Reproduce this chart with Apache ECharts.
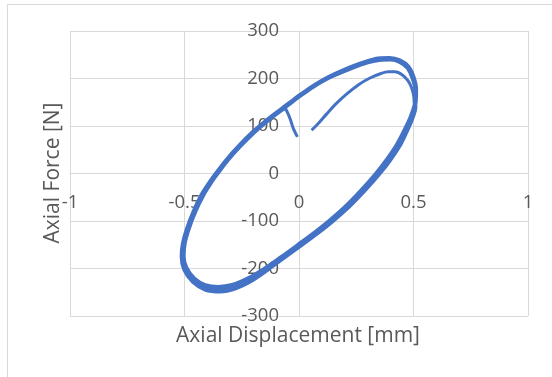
<!DOCTYPE html>
<html>
<head>
<meta charset="utf-8">
<script src="https://cdn.jsdelivr.net/npm/echarts@6/dist/echarts.min.js"></script>
<style>
html,body{margin:0;padding:0;background:#fff;}
#c{width:552px;height:377px;}
</style>
</head>
<body>
<div id="c"></div>
<script>
// Tick values
const xTicks = [-1, -0.5, 0, 0.5, 1];
const yTicks = [-300, -200, -100, 0, 100, 200, 300];

// Initial loading curve
const initX = [0.055, 0.08, 0.12, 0.16, 0.21, 0.26, 0.31, 0.355, 0.39, 0.42, 0.45, 0.475, 0.492, 0.502, 0.504];
const initY = [91, 103, 125, 146, 168, 187, 201, 210, 214, 214, 208, 196, 180, 160, 140];

// Cycle 1
const c1X = [0.504, 0.49, 0.465, 0.43, 0.385, 0.34, 0.28, 0.21, 0.14, 0.07, 0, -0.08, -0.15, -0.22, -0.29, -0.35, -0.41, -0.46, -0.495, -0.507, -0.502, -0.485, -0.455, -0.42, -0.385, -0.355, -0.31, -0.26, -0.2, -0.14, -0.08, -0.03, 0, 0.05, 0.1, 0.16, 0.23, 0.3, 0.35, 0.4, 0.44, 0.475, 0.497, 0.508, 0.506];
const c1Y = [140, 118, 92, 60, 28, 0, -33, -68, -98, -125, -150, -178, -202, -223, -238, -243, -239, -224, -200, -175, -148, -118, -80, -45, -18, 2, 30, 57, 86, 111, 133, 151, 162, 179, 194, 208, 222, 234, 239, 240, 235, 222, 200, 175, 150];

// Cycle 2
const c2X = [0.508, 0.496, 0.473, 0.441, 0.397, 0.352, 0.292, 0.222, 0.152, 0.082, 0.012, -0.068, -0.139, -0.21, -0.28, -0.343, -0.41, -0.463, -0.5, -0.512, -0.507, -0.49, -0.46, -0.425, -0.389, -0.359, -0.314, -0.264, -0.204, -0.144, -0.084, -0.034, -0.004, 0.046, 0.096, 0.156, 0.226, 0.296, 0.346, 0.396, 0.44, 0.477, 0.5, 0.511, 0.509];
const c2Y = [140, 118, 92, 60, 28, 0, -33, -68, -98, -125, -150, -178, -203, -226, -242, -248, -244, -228, -203, -175, -148, -118, -80, -45, -18, 2, 30, 57, 86, 111, 133, 151, 162, 179, 194, 209, 224, 236, 242, 243, 238, 225, 203, 177, 150];

// Cycle 3 (final, partial)
const c3X = [0.503, 0.487, 0.462, 0.427, 0.382, 0.337, 0.277, 0.207, 0.137, 0.067, -0.003, -0.083, -0.152, -0.222, -0.292, -0.352, -0.41, -0.458, -0.492, -0.504, -0.5, -0.483, -0.453, -0.418, -0.383, -0.353, -0.308, -0.258, -0.198, -0.138, -0.078, -0.06];
const c3Y = [140, 118, 92, 60, 28, 0, -33, -68, -98, -125, -150, -178, -201, -221, -235, -239, -235, -221, -199, -175, -148, -118, -80, -45, -18, 2, 30, 57, 86, 111, 133, 138];

// Unloading tail
const tailX = [-0.06, -0.05, -0.038, -0.025, -0.007];
const tailY = [138, 128, 114, 95, 77];

const loopX = [].concat(c1X, c2X, c3X);
const loopY = [].concat(c1Y, c2Y, c3Y);
const pairs = (xs, ys) => xs.map((x, i) => [x, ys[i]]);

const font = "'Open Sans', 'Liberation Sans', sans-serif";
const txt = '#595959';
const gridCol = '#d9d9d9';
const blue = '#4472C4';

const chart = echarts.init(document.getElementById('c'), null, {renderer: 'canvas'});
chart.setOption({
  animation: false,
  backgroundColor: '#fff',
  grid: {left: 70, right: 24, top: 31, bottom: 61, containLabel: false},
  xAxis: {
    type: 'value', min: xTicks[0], max: xTicks[xTicks.length - 1], interval: 0.5,
    position: 'bottom', offset: -142.5,
    axisLine: {show: true, onZero: false, lineStyle: {color: gridCol, width: 1}},
    axisTick: {show: false},
    splitLine: {show: true, lineStyle: {color: gridCol, width: 1}},
    axisLabel: {color: txt, fontFamily: font, fontSize: 18.5, margin: 20, showMinLabel: true, showMaxLabel: true}
  },
  yAxis: {
    type: 'value', min: yTicks[0], max: yTicks[yTicks.length - 1], interval: 100,
    position: 'left', offset: -229,
    axisLine: {show: true, onZero: false, lineStyle: {color: gridCol, width: 1}},
    axisTick: {show: false},
    splitLine: {show: true, lineStyle: {color: gridCol, width: 1}},
    axisLabel: {color: txt, fontFamily: font, fontSize: 18.5, margin: 20, showMinLabel: true, showMaxLabel: true}
  },
  graphic: [
    {type: 'rect', shape: {x: 7.5, y: 4.5, width: 600, height: 400}, style: {fill: null, stroke: gridCol, lineWidth: 1}, z: -10, silent: true},
    {type: 'text', x: 298, y: 336, style: {text: 'Axial Displacement [mm]', font: "21px 'Open Sans', sans-serif", fill: txt, align: 'center', verticalAlign: 'middle'}},
    {type: 'text', x: 53, y: 173, rotation: Math.PI / 2, style: {text: 'Axial Force [N]', font: "21px 'Open Sans', sans-serif", fill: txt, align: 'center', verticalAlign: 'middle'}}
  ],
  series: [
    {type: 'line', name: 'initial', data: pairs(initX, initY), showSymbol: false, smooth: 0.35, lineStyle: {color: blue, width: 3}, z: 5},
    {type: 'line', name: 'cycles', data: pairs(loopX, loopY), showSymbol: false, smooth: 0.35, lineStyle: {color: blue, width: 4.2}, z: 5},
    {type: 'line', name: 'tail', data: pairs(tailX, tailY), showSymbol: false, smooth: 0.35, lineStyle: {color: blue, width: 3}, z: 5}
  ]
});
</script>
</body>
</html>
